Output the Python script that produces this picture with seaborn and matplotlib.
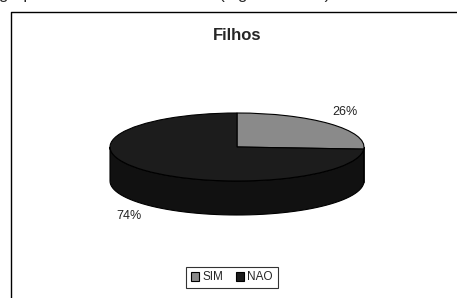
import numpy as np
import matplotlib
matplotlib.use("Agg")
import matplotlib.pyplot as plt
from matplotlib.patches import Polygon
from matplotlib.lines import Line2D
import seaborn as sns

sns.set_theme(style="white")
plt.rcParams["font.family"] = ["Liberation Sans", "DejaVu Sans"]

# data
labels = ["SIM", "NAO"]
values = [26, 74]
top_colors = ["#8a8a8a", "#1c1c1c"]
side_colors = ["#555555", "#111111"]
title = "Filhos"
header = "grupo de mães entrevistadas (alguns dados)"

W, H = 457, 298
cx, cy, a, b = 237, 147, 127, 34  # pie centre / ellipse radii in pixels
depth = 1.0  # in y units (= b pixels)

fig = plt.figure(figsize=(W / 100, H / 100), dpi=100)
ax = fig.add_axes([0, 0, 1, 1])

# top face
wedges, _ = ax.pie(values, startangle=90, counterclock=False, colors=top_colors,
                   wedgeprops={"edgecolor": "black", "linewidth": 0.8, "zorder": 3})

# side of the cylinder (front half only)
fracs = np.array(values) / np.sum(values)
start = 90.0
bounds = []
for f in fracs:
    end = start - f * 360
    bounds.append((end, start))
    start = end
for (t1, t2), c in zip(bounds, side_colors):
    for off in (0, -360, 360):
        lo, hi = max(t1 + off, -180), min(t2 + off, 0)
        if hi <= lo:
            continue
        t = np.radians(np.linspace(lo, hi, 60))
        top = np.column_stack([np.cos(t), np.sin(t)])
        bot = top[::-1] - [0, depth]
        ax.add_patch(Polygon(np.vstack([top, bot]), closed=True, facecolor=c,
                             edgecolor="black", linewidth=0.8, zorder=2))

# percentage labels
start = 90.0
for f, v in zip(fracs, values):
    mid = np.radians(start - f * 180)
    x, y = 1.17 * np.cos(mid), 1.5 * np.sin(mid)
    if y < 0:
        y -= depth
    ax.text(x, y, f"{v}%", ha="center", va="center", fontsize=9, color="#222222")
    start -= f * 360

ax.set_aspect("auto")
ax.set_xlim((0 - cx) / a, (W - cx) / a)
ax.set_ylim(-(H - cy) / b, cy / b)
ax.axis("off")

fig.text(cx / W, 1 - 35 / H, title, ha="center", va="center", fontsize=12, fontweight="bold")
fig.text(-0.002, 1.0 + 1 / H, header, ha="left", va="baseline", fontsize=12)

# outer frame (left and top edges visible)
fig.add_artist(Line2D([11 / W, 11 / W, 1.0], [0.0, 1 - 12 / H, 1 - 12 / H],
                      color="black", linewidth=1.0, transform=fig.transFigure))

leg = fig.legend(wedges, labels, loc="center", bbox_to_anchor=(232 / W, 1 - 277.5 / H),
                 ncol=2, fontsize=8.5, frameon=True, fancybox=False, edgecolor="black",
                 handlelength=0.7, handleheight=0.7, handletextpad=0.25, columnspacing=1.1,
                 borderpad=0.4, borderaxespad=0)
leg.get_frame().set_linewidth(0.8)

fig.savefig("out.png", dpi=100)
